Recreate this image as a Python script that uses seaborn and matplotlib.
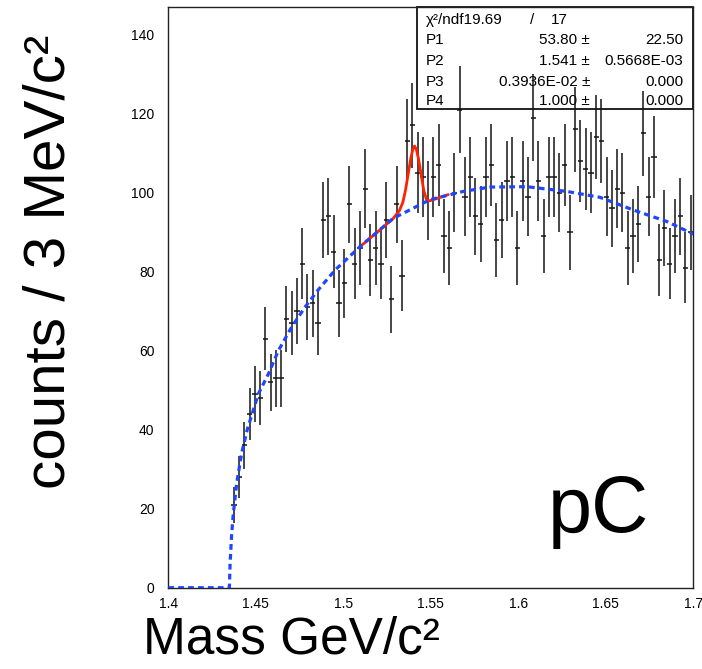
import numpy as np
import matplotlib
matplotlib.use("Agg")
import matplotlib.pyplot as plt
from matplotlib.ticker import MultipleLocator, FixedLocator
from matplotlib.patches import Rectangle
import seaborn as sns

# ---------------- data ----------------
bin_centers = [
    1.4375, 1.4405, 1.4435, 1.4465, 1.4495, 1.4525, 1.4555, 1.4585, 1.4615, 1.4645,
    1.4675, 1.4705, 1.4735, 1.4765, 1.4795, 1.4825, 1.4855, 1.4885, 1.4915, 1.4945,
    1.4975, 1.5005, 1.5035, 1.5065, 1.5095, 1.5125, 1.5155, 1.5185, 1.5215, 1.5245,
    1.5275, 1.5305, 1.5335, 1.5365, 1.5395, 1.5425, 1.5455, 1.5485, 1.5515, 1.5545,
    1.5575, 1.5605, 1.5635, 1.5665, 1.5695, 1.5725, 1.5755, 1.5785, 1.5815, 1.5845,
    1.5875, 1.5905, 1.5935, 1.5965, 1.5995, 1.6025, 1.6055, 1.6085, 1.6115, 1.6145,
    1.6175, 1.6205, 1.6235, 1.6265, 1.6295, 1.6325, 1.6355, 1.6385, 1.6415, 1.6445,
    1.6475, 1.6505, 1.6535, 1.6565, 1.6595, 1.6625, 1.6655, 1.6685, 1.6715, 1.6745,
    1.6775, 1.6805, 1.6835, 1.6865, 1.6895, 1.6925, 1.6955, 1.6985,
]
counts = [
    21, 28, 36, 44, 49, 48, 63, 52, 53, 53,
    68, 67, 70, 82, 71, 72, 67, 93, 94, 85,
    72, 77, 97, 82, 86, 101, 83, 86, 82, 93,
    73, 97, 79, 113, 117, 105, 104, 98, 104, 107,
    89, 86, 100, 121, 99, 104, 94, 92, 104, 107,
    88, 93, 103, 104, 86, 103, 99, 119, 103, 89,
    104, 104, 100, 107, 90, 116, 108, 106, 105, 114,
    113, 99, 96, 101, 100, 86, 89, 92, 115, 99,
    109, 83, 91, 82, 89, 94, 81, 90,
]
bin_half_width = 0.0015

# background fit (blue dashed)
bg_mass = [1.400, 1.4349, 1.4353, 1.4362, 1.4371, 1.4391, 1.4419, 1.4451, 1.4486,
           1.4514, 1.4571, 1.4629, 1.4705, 1.4781, 1.4857, 1.4953, 1.5095, 1.5286,
           1.5495, 1.5686, 1.5838, 1.6048, 1.6277, 1.6467, 1.6657, 1.6848, 1.700]
bg_counts = [0, 0, 6, 13.5, 18.5, 26.5, 34, 40, 45,
             49, 54, 60, 66, 71, 75.4, 80.4, 86.3, 93.5,
             98.2, 100.3, 101.4, 101.5, 100.3, 98.8, 95.6, 92.7, 89.5]

# total fit (red)
fit_mass = [1.5095, 1.5200, 1.5286, 1.5320, 1.5340, 1.5355, 1.5370, 1.5385, 1.5397,
            1.5407, 1.5417, 1.5430, 1.5445, 1.5460, 1.5475, 1.5490, 1.5520, 1.5600]
fit_counts = [86.3, 90.2, 93.5, 95.4, 97.5, 100.5, 104.5, 108.5, 110.9,
              111.8, 111.0, 108.5, 104.5, 100.5, 98.3, 97.9, 98.3, 99.5]

x_ticks = [1.4, 1.45, 1.5, 1.55, 1.6, 1.65, 1.7]
x_tick_labels = ["1.4", "1.45", "1.5", "1.55", "1.6", "1.65", "1.7"]
y_ticks = [0, 20, 40, 60, 80, 100, 120, 140]

chi2_label = "\u03c7\u00b2/ndf19.69"
chi2_ndf = "17"
par_names = ["P1", "P2", "P3", "P4"]
par_values = ["53.80", "1.541", "0.3936E-02", "1.000"]
par_errors = ["22.50", "0.5668E-03", "0.000", "0.000"]

# ---------------- style ----------------
sns.set_style("white")
plt.rcParams['font.family'] = ['Liberation Sans', 'DejaVu Sans']
plt.rcParams['text.color'] = 'black'
plt.rcParams['xtick.color'] = 'black'
plt.rcParams['ytick.color'] = 'black'
plt.rcParams['axes.labelcolor'] = 'black'

fig = plt.figure(figsize=(7.02, 6.69), dpi=100)
ax = fig.add_axes([168.3 / 702, 1 - 587.7 / 669, 525 / 702, 580.4 / 669])

# data points with error bars
ax.errorbar(bin_centers, counts, xerr=bin_half_width, yerr=np.sqrt(counts),
            fmt='none', ecolor='#151515', elinewidth=1.1, capsize=0, zorder=3)

# total fit (red) and background (blue dashed)
sns.lineplot(x=fit_mass, y=fit_counts, ax=ax, color='#ff2200', linewidth=2.0,
             sort=False, estimator=None, zorder=4)
sns.lineplot(x=bg_mass, y=bg_counts, ax=ax, color='#1f45ff', linewidth=2.3,
             linestyle=(0, (1.8, 1.3)), sort=False, estimator=None, zorder=5)

ax.set_xlim(1.4, 1.7)
ax.set_ylim(0, 146.9)
ax.xaxis.set_major_locator(FixedLocator(x_ticks))
ax.set_xticklabels(x_tick_labels)
ax.xaxis.set_minor_locator(MultipleLocator(0.01))
ax.yaxis.set_major_locator(FixedLocator(y_ticks))
ax.yaxis.set_minor_locator(MultipleLocator(5))
ax.tick_params(axis='both', which='both', direction='in', top=False, right=False,
               color='#222222', width=1.0, labelcolor='black')
ax.tick_params(axis='both', which='major', length=9, labelsize=10)
ax.tick_params(axis='both', which='minor', length=5)
ax.tick_params(axis='y', which='major', pad=10)
ax.tick_params(axis='x', which='major', pad=7)
for s in ax.spines.values():
    s.set_color('#222222')
    s.set_linewidth(1.0)
ax.set_xlabel("")
ax.set_ylabel("")

# stats box
bx0, by0 = (417.3 - 168.3) / 525, (587.7 - 109.3) / 580.4
ax.add_patch(Rectangle((bx0, by0), 1 - bx0, 1 - by0, transform=ax.transAxes,
                       facecolor='white', edgecolor='#111111', linewidth=1.3,
                       zorder=2, clip_on=False))
def axx(px):
    return (px - 168.3) / 525
def axy(py):
    return (587.7 - py) / 580.4
row_py = [20, 40.5, 61, 81.5, 101]
fs_box = 11
ax.text(axx(426), axy(row_py[0]), chi2_label, transform=ax.transAxes,
        ha='left', va='center', fontsize=fs_box, zorder=2.5)
ax.text(axx(532), axy(row_py[0]), "/", transform=ax.transAxes,
        ha='center', va='center', fontsize=fs_box, zorder=2.5)
ax.text(axx(568), axy(row_py[0]), chi2_ndf, transform=ax.transAxes,
        ha='right', va='center', fontsize=fs_box, zorder=2.5)
for i, (n, v, e) in enumerate(zip(par_names, par_values, par_errors)):
    y = axy(row_py[i + 1])
    ax.text(axx(426), y, n, transform=ax.transAxes, ha='left', va='center',
            fontsize=fs_box, zorder=2.5)
    ax.text(axx(590), y, v + " \u00b1", transform=ax.transAxes, ha='right',
            va='center', fontsize=fs_box, zorder=2.5)
    ax.text(axx(683.5), y, e, transform=ax.transAxes, ha='right', va='center',
            fontsize=fs_box, zorder=2.5)

# big "pC" label
ax.text(axx(548), axy(532), "pC", transform=ax.transAxes, ha='left',
        va='baseline', fontsize=57, color='black', zorder=6)

# axis titles
fig.text(50 / 702, 1 - 262 / 669, "counts / 3 MeV/c\u00b2", rotation=90,
         ha='center', va='center', fontsize=42, color='black')
fig.text(291.5 / 702, 1 - 653 / 669, "Mass GeV/c\u00b2", ha='center',
         va='baseline', fontsize=37, color='black')

fig.savefig("out.png", dpi=100)
